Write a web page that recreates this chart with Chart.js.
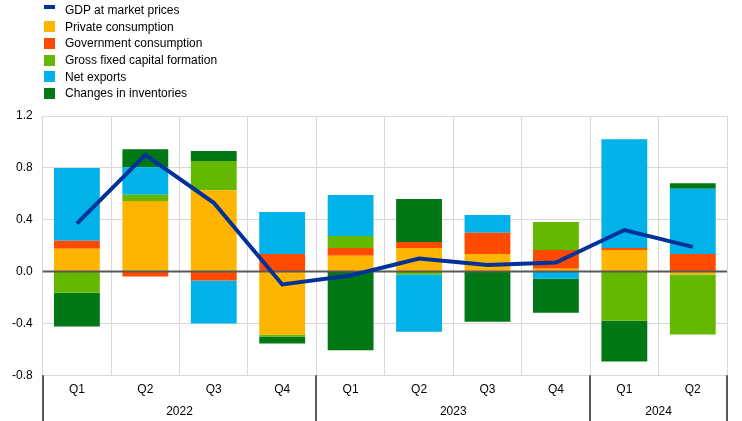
<!DOCTYPE html>
<html><head><meta charset="utf-8">
<script src="https://cdn.jsdelivr.net/npm/chart.js@4"></script>
<style>
html,body{margin:0;padding:0;background:#fff;}
#wrap{position:relative;width:742px;height:421px;overflow:hidden;}
#c{position:absolute;left:0;top:0;}
#legend{position:absolute;left:44px;top:2px;font:12px "Liberation Sans",Arial,sans-serif;color:#000;}
.item{height:16.6px;display:flex;align-items:center;white-space:nowrap;}
.mk{width:11px;margin-right:10px;flex:none;}
</style></head><body>
<div id="wrap"><canvas id="c" width="742" height="421"></canvas><div id="legend"></div></div>
<script>
// ---- data ----
const categories = ['Q1','Q2','Q3','Q4','Q1','Q2','Q3','Q4','Q1','Q2'];
const years = ['2022','2023','2024'];
const yearSpans = [4, 4, 2];
const yTicks = [-0.8, -0.4, 0.0, 0.4, 0.8, 1.2];
const gdp = [0.37, 0.90, 0.53, -0.10, -0.03, 0.10, 0.05, 0.07, 0.32, 0.19];
const privateConsumption = [0.175, 0.544, 0.628, -0.487, 0.121, 0.182, 0.136, 0.021, 0.167, -0.023];
const governmentConsumption = [0.063, -0.038, -0.069, 0.136, 0.061, 0.046, 0.164, 0.146, 0.015, 0.136];
const grossFixedCapitalFormation = [-0.164, 0.048, 0.224, -0.015, 0.092, -0.023, 0.0, 0.215, -0.379, -0.462];
const netExports = [0.560, 0.213, -0.333, 0.323, 0.316, -0.441, 0.136, -0.056, 0.838, 0.502];
const changesInInventories = [-0.260, 0.139, 0.077, -0.054, -0.607, 0.331, -0.387, -0.262, -0.316, 0.044];

// ---- derived: year axis labels at group boundaries/centres ----
const yearBounds = [0];
yearSpans.forEach(s => yearBounds.push(yearBounds[yearBounds.length-1] + s));
const total = yearBounds[yearBounds.length-1];
const yearAxisLabels = new Array(total + 1).fill('');
yearSpans.forEach((s, i) => { yearAxisLabels[yearBounds[i] + s / 2] = years[i]; });

const FONT = '"Liberation Sans", Arial, sans-serif';
const datasets = [
  {type:'line', label:'GDP at market prices', data:gdp, borderColor:'#003299', backgroundColor:'#003299',
   borderWidth:4, pointRadius:0, pointHoverRadius:0, tension:0, stack:'gdp'},
  {type:'bar', label:'Private consumption', data:privateConsumption, backgroundColor:'#FFB400', stack:'c'},
  {type:'bar', label:'Government consumption', data:governmentConsumption, backgroundColor:'#FF4B00', stack:'c'},
  {type:'bar', label:'Gross fixed capital formation', data:grossFixedCapitalFormation, backgroundColor:'#65B800', stack:'c'},
  {type:'bar', label:'Net exports', data:netExports, backgroundColor:'#00B1EA', stack:'c'},
  {type:'bar', label:'Changes in inventories', data:changesInInventories, backgroundColor:'#007816', stack:'c'}
];
datasets.forEach(d => { if (d.type === 'bar') { d.barPercentage = 0.67; d.categoryPercentage = 1.0; d.borderWidth = 0; } });

const zeroLine = {
  id:'zeroLine',
  beforeDatasetDraw(chart, args) {
    if (args.index !== 0) return;
    const ctx = chart.ctx, y = chart.scales.y.getPixelForValue(0), a = chart.chartArea;
    ctx.save(); ctx.strokeStyle = '#595959'; ctx.lineWidth = 2;
    ctx.beginPath(); ctx.moveTo(a.left, y); ctx.lineTo(a.right, y); ctx.stroke(); ctx.restore();
  }
};
const yearSeparators = {
  id:'yearSeparators',
  afterDraw(chart) {
    const ctx = chart.ctx, x2 = chart.scales.x2, a = chart.chartArea;
    ctx.save(); ctx.strokeStyle = '#595959'; ctx.lineWidth = 2;
    yearBounds.forEach(b => {
      const x = Math.round(x2.getPixelForValue(b));
      ctx.beginPath(); ctx.moveTo(x, a.bottom); ctx.lineTo(x, chart.height); ctx.stroke();
    });
    ctx.restore();
  }
};

new Chart(document.getElementById('c'), {
  data: {labels: categories, datasets},
  options: {
    responsive:false, animation:false,
    layout:{padding:{top:116, left:2, right:15, bottom:1}},
    plugins:{legend:{display:false}, tooltip:{enabled:false}},
    scales:{
      x:{type:'category', offset:true, stacked:true,
         grid:{offset:true, color:'#d9d9d9', drawTicks:false},
         border:{color:'#d9d9d9'},
         ticks:{color:'#000', font:{family:FONT, size:12}, padding:7, maxRotation:0, autoSkip:false}},
      x2:{type:'category', labels:yearAxisLabels, position:'bottom', offset:false,
          grid:{display:false, drawTicks:false}, border:{display:false},
          ticks:{color:'#000', font:{family:FONT, size:12}, padding:1, maxRotation:0, autoSkip:false}},
      y:{min:yTicks[0], max:yTicks[yTicks.length-1], stacked:true,
         afterBuildTicks: axis => { axis.ticks = yTicks.map(v => ({value:v})); },
         grid:{color:'#d9d9d9', drawTicks:false}, border:{color:'#d9d9d9'},
         ticks:{color:'#000', font:{family:FONT, size:12}, padding:10,
                callback:v => (Math.abs(v) < 1e-9 ? 0 : v).toFixed(1)}}
    }
  },
  plugins:[zeroLine, yearSeparators]
});

// HTML legend built from datasets
const leg = document.getElementById('legend');
datasets.forEach(d => {
  const it = document.createElement('div'); it.className = 'item';
  const mk = document.createElement('span'); mk.className = 'mk';
  mk.style.background = d.type === 'line' ? d.borderColor : d.backgroundColor;
  mk.style.height = d.type === 'line' ? '4px' : '11px';
  if (d.type === 'line') { mk.style.alignSelf = 'flex-start'; mk.style.marginTop = '3px'; }
  const tx = document.createElement('span'); tx.textContent = d.label;
  it.appendChild(mk); it.appendChild(tx); leg.appendChild(it);
});
</script>
</body></html>
